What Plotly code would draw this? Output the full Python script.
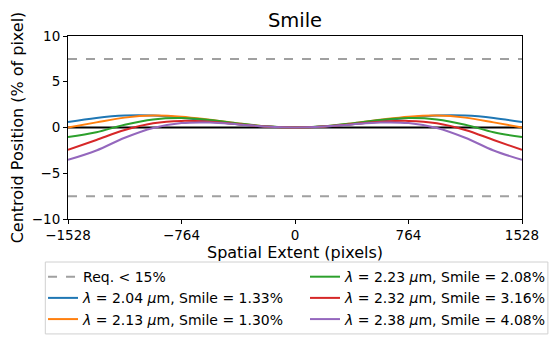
import plotly.graph_objects as go

# spatial position across the detector (pixels)
spatial_px = [-1528, -1337, -1146, -955, -764, -573, -382, -191, 0,
              191, 382, 573, 764, 955, 1146, 1337, 1528]

# centroid offset, % of pixel
smile_204 = [0.59, 1.04, 1.30, 1.30, 1.07, 0.72, 0.36, 0.10, 0.00,
             0.10, 0.36, 0.72, 1.07, 1.30, 1.30, 1.04, 0.59]
smile_213 = [0.00, 0.56, 1.08, 1.30, 1.18, 0.84, 0.44, 0.12, 0.00,
             0.12, 0.44, 0.84, 1.18, 1.30, 1.08, 0.56, 0.00]
smile_223 = [-1.05, -0.52, 0.31, 0.88, 1.03, 0.82, 0.45, 0.13, 0.00,
             0.13, 0.45, 0.82, 1.03, 0.88, 0.31, -0.52, -1.05]
smile_232 = [-2.45, -1.36, -0.27, 0.46, 0.72, 0.62, 0.35, 0.10, 0.00,
             0.10, 0.35, 0.62, 0.72, 0.46, -0.27, -1.36, -2.45]
smile_238 = [-3.54, -2.51, -1.12, -0.05, 0.48, 0.54, 0.34, 0.10, 0.00,
             0.10, 0.34, 0.54, 0.48, -0.05, -1.12, -2.51, -3.54]

wavelengths = ['2.04', '2.13', '2.23', '2.32', '2.38']
smile_pct = ['1.33', '1.30', '2.08', '3.16', '4.08']
series = [smile_204, smile_213, smile_223, smile_232, smile_238]
colors = ['#1f77b4', '#ff7f0e', '#2ca02c', '#d62728', '#9467bd']

req_limit = 7.5
x_ticks = [-1528, -764, 0, 764, 1528]
y_ticks = [-10, -5, 0, 5, 10]

# first legend column holds the requirement + first two wavelengths
legend_cols = ['legend', 'legend', 'legend2', 'legend2', 'legend2']

fig = go.Figure()

# nominal zero line
fig.add_trace(go.Scatter(
    x=[spatial_px[0], spatial_px[-1]], y=[0, 0],
    mode='lines', line=dict(color='black', width=2),
    showlegend=False, hoverinfo='skip'
))

for sign in [1, -1]:
    fig.add_trace(go.Scatter(
        x=[spatial_px[0], spatial_px[-1]],
        y=[sign * req_limit, sign * req_limit],
        mode='lines', line=dict(color='#a0a0a0', width=2, dash='dash'),
        name='Req. < 15%', legend='legend', legendgroup='req',
        showlegend=(sign == 1)
    ))

for vals, wl, pct, col, leg in zip(series, wavelengths, smile_pct, colors, legend_cols):
    fig.add_trace(go.Scatter(
        x=spatial_px, y=vals, mode='lines',
        line=dict(color=col, width=2, shape='spline'),
        name=f'<i>λ</i> = {wl} <i>μ</i>m, Smile = {pct}%',
        legend=leg, legendgroup=wl
    ))

axis_style = dict(
    showline=True, linecolor='black', linewidth=1, mirror=True,
    ticks='outside', ticklen=4, tickcolor='black',
    showgrid=False, zeroline=False,
    tickfont=dict(size=13.5, color='black')
)

legend_style = dict(
    orientation='v', yanchor='top', xanchor='left',
    bgcolor='rgba(0,0,0,0)', borderwidth=0,
    font=dict(size=14), tracegroupgap=0
)

# the page body adds an 8px offset, so the figure is 8px smaller than the window
fig.update_layout(
    width=549, height=335,
    margin=dict(l=60, r=35, t=28, b=124, autoexpand=False),
    paper_bgcolor='white', plot_bgcolor='white',
    font=dict(family='DejaVu Sans', color='black'),
    title=dict(text='Smile', x=0.5, xref='paper', xanchor='center',
               y=(335 - 12) / 335, yanchor='middle', font=dict(size=19.5)),
    showlegend=True,
    legend=dict(x=-0.055, y=-0.23, **legend_style),
    legend2=dict(x=0.522, y=-0.23, **legend_style),
    shapes=[dict(
        type='rect', xref='paper', yref='paper',
        x0=-0.05, x1=1.057, y0=-0.628, y1=-0.235,
        line=dict(color='#d0d0d0', width=1), fillcolor='rgba(0,0,0,0)'
    )]
)

fig.update_xaxes(range=[-1528, 1528], tickvals=x_ticks,
                 title=dict(text='Spatial Extent (pixels)', font=dict(size=16), standoff=2),
                 **axis_style)
fig.update_yaxes(range=[-10, 10], tickvals=y_ticks,
                 title=dict(text='Centroid Position (% of pixel)', font=dict(size=16), standoff=6),
                 **axis_style)

fig.write_html("out.html")
